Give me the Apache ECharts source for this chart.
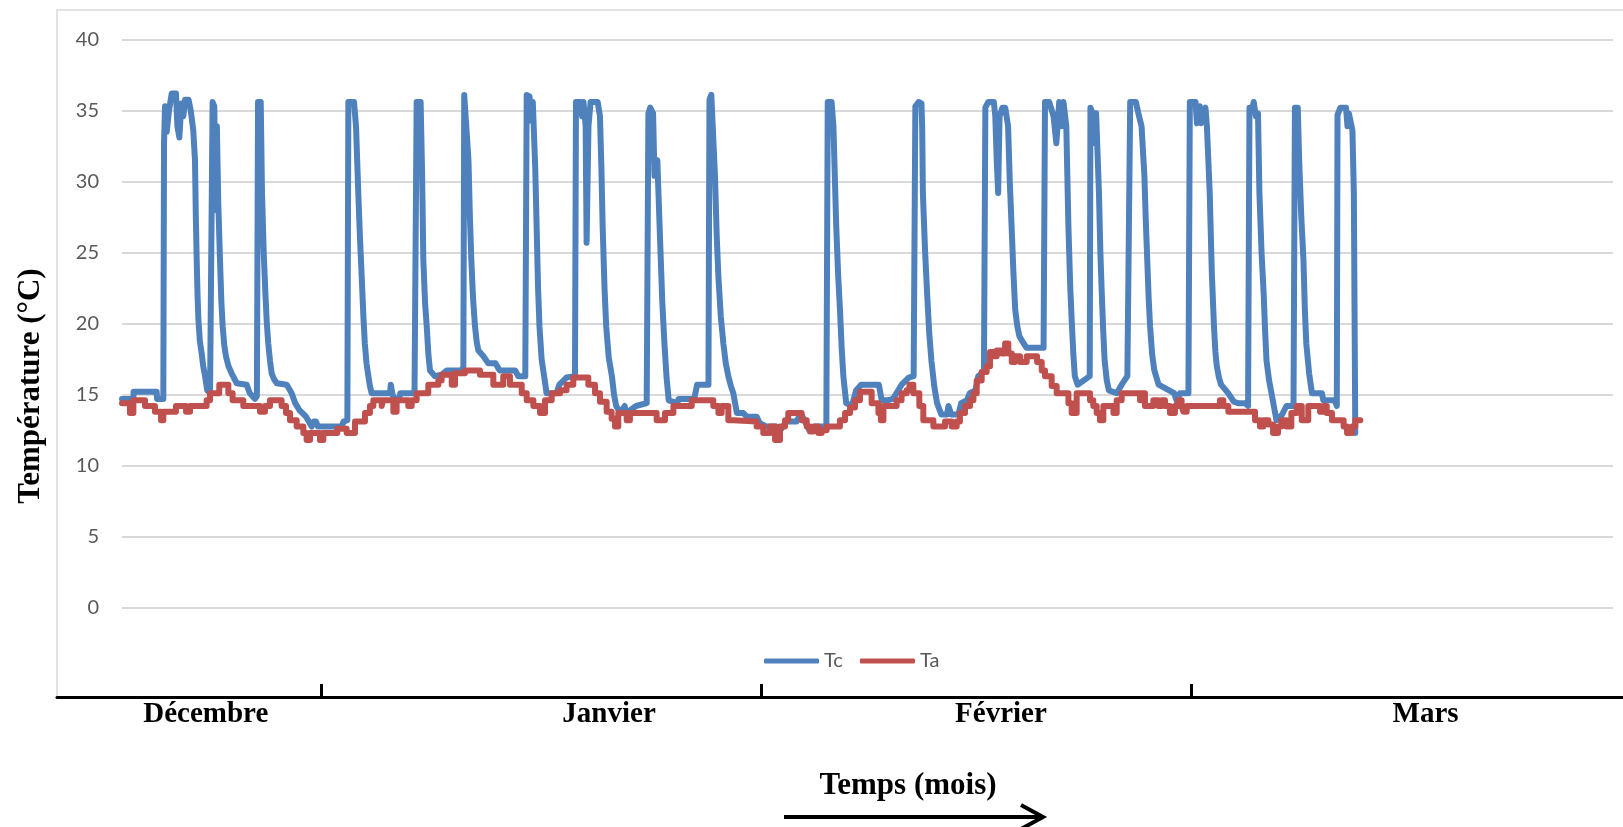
<!DOCTYPE html>
<html>
<head>
<meta charset="utf-8">
<script src="https://cdn.jsdelivr.net/npm/echarts@6/dist/echarts.min.js"></script>
<style>
  html, body { margin: 0; padding: 0; background: #ffffff; }
  #chart { width: 1623px; height: 827px; }
</style>
</head>
<body>
<div id="chart"></div>
<script>
// Time axis: days since the first reading. Temperatures in °C.

// Tc : collector temperature (sampled points, drawn as a plain line)
const tcPoints = [
  [0, 14.7], [0.8, 14.7], [0.82, 15.2], [2.44, 15.2], [2.47, 14.7], [2.91, 14.7], [2.96, 32.7], [3.03, 35.3],
  [3.15, 33.5], [3.31, 35.0], [3.5, 36.2], [3.8, 36.2], [3.9, 33.9], [4.04, 33.1], [4.18, 35.5], [4.32, 34.6],
  [4.44, 35.75], [4.69, 35.75], [4.84, 35.0], [5.02, 33.6], [5.14, 31.5], [5.2, 27.5], [5.26, 24.5], [5.32, 22.0],
  [5.38, 20.3], [5.48, 18.8], [5.61, 17.9], [5.72, 17.0], [5.85, 16.3], [6.0, 15.3], [6.2, 15.1], [6.38, 35.6],
  [6.5, 35.3], [6.6, 28.0], [6.68, 33.9], [6.78, 28.5], [6.9, 24.5], [7.0, 21.5], [7.09, 19.8], [7.2, 18.5],
  [7.32, 17.7], [7.5, 17.0], [7.72, 16.5], [8.08, 15.8], [8.78, 15.7], [9.0, 15.1], [9.37, 14.7], [9.5, 14.9],
  [9.58, 35.6], [9.77, 35.6], [9.86, 29.2], [9.98, 25.0], [10.1, 22.1], [10.2, 20.0], [10.3, 18.6], [10.42, 17.4],
  [10.54, 16.5], [10.7, 16.1], [10.9, 15.8], [11.6, 15.7], [11.95, 15.1], [12.2, 14.4], [12.5, 13.9], [12.96, 13.45],
  [13.36, 12.75], [13.5, 13.1], [13.66, 13.1], [13.8, 12.75], [15.47, 12.75], [15.6, 13.1], [15.87, 13.2], [15.94, 35.6],
  [16.34, 35.6], [16.48, 33.9], [16.64, 29.2], [16.76, 26.0], [16.88, 23.3], [17.0, 20.5], [17.1, 18.6], [17.22, 17.2],
  [17.35, 16.3], [17.46, 15.6], [17.58, 15.1], [18.87, 15.1], [18.93, 15.7], [19.05, 15.0], [19.2, 14.7], [19.5, 14.7],
  [19.6, 15.1], [20.6, 15.1], [20.65, 15.2], [20.75, 35.6], [21.03, 35.6], [21.13, 30.8], [21.22, 24.5], [21.34, 21.5],
  [21.46, 19.8], [21.58, 17.8], [21.69, 16.7], [22.04, 16.3], [22.5, 16.4], [22.86, 16.7], [23.95, 16.7], [24.04, 17.0],
  [24.1, 36.1], [24.23, 36.0], [24.4, 31.5], [24.5, 27.5], [24.6, 24.5], [24.72, 21.8], [24.86, 19.8], [24.98, 18.7],
  [25.1, 18.1], [25.45, 17.7], [25.8, 17.2], [26.3, 17.2], [26.6, 16.7], [27.7, 16.7], [27.9, 16.3], [28.4, 16.3],
  [28.5, 36.1], [28.7, 36.0], [28.8, 34.3], [28.93, 35.6], [29.0, 35.5], [29.1, 31.0], [29.2, 26.8], [29.3, 22.5],
  [29.4, 19.8], [29.55, 17.5], [29.8, 15.8], [29.9, 15.1], [30.6, 15.1], [30.8, 15.7], [31.3, 16.2], [31.9, 16.3],
  [31.97, 35.6], [32.3, 35.6], [32.4, 34.6], [32.5, 35.6], [32.65, 33.9], [32.72, 25.7], [32.85, 33.9], [33.0, 35.6],
  [33.5, 35.6], [33.66, 34.6], [33.76, 31.0], [33.85, 26.8], [33.98, 22.5], [34.1, 19.8], [34.28, 17.6], [34.5, 16.3],
  [34.65, 15.0], [34.8, 14.2], [35.1, 13.7], [35.4, 14.2], [35.5, 13.7], [36.2, 14.2], [36.95, 14.4], [37.07, 34.8],
  [37.2, 35.2], [37.4, 34.8], [37.5, 30.4], [37.7, 31.5], [37.9, 25.7], [38.05, 21.5], [38.2, 18.6], [38.35, 16.2],
  [38.5, 14.6], [39.1, 14.4], [39.2, 14.7], [40.3, 14.7], [40.5, 15.7], [41.3, 15.7], [41.37, 35.75], [41.5, 36.1],
  [41.6, 36.0], [41.76, 30.4], [41.88, 26.2], [42.0, 23.3], [42.17, 20.5], [42.35, 18.6], [42.52, 17.2], [42.7, 16.3],
  [42.88, 15.6], [43.05, 15.1], [43.3, 13.7], [43.76, 13.7], [44.0, 13.45], [44.7, 13.45], [44.9, 13.0], [45.4, 12.75],
  [46.1, 12.75], [46.3, 12.4], [46.8, 13.1], [47.5, 13.1], [47.8, 13.7], [48.1, 13.1], [48.4, 12.5], [48.8, 12.75],
  [49.4, 12.75], [49.6, 12.6], [49.7, 35.6], [49.97, 35.6], [50.1, 33.9], [50.3, 26.8], [50.43, 23.5], [50.56, 21.0],
  [50.68, 18.3], [50.8, 16.3], [51.0, 14.4], [51.4, 14.2], [51.7, 15.3], [52.05, 15.7], [53.3, 15.7], [53.5, 14.6],
  [53.9, 14.6], [54.3, 14.7], [54.9, 15.7], [55.4, 16.2], [55.75, 16.3], [55.87, 35.3], [56.1, 35.6], [56.3, 35.5],
  [56.35, 33.9], [56.4, 29.2], [56.55, 25.2], [56.7, 22.1], [56.85, 19.3], [57.0, 17.4], [57.2, 15.6], [57.4, 14.4],
  [57.7, 13.6], [58.1, 13.6], [58.2, 14.2], [58.4, 13.6], [58.9, 13.6], [59.1, 14.4], [59.5, 14.6], [59.7, 15.1],
  [60.1, 15.3], [60.3, 16.3], [60.7, 16.6], [60.8, 35.2], [61.0, 35.6], [61.4, 35.6], [61.5, 34.6], [61.6, 31.5],
  [61.7, 29.2], [61.8, 34.6], [62.0, 35.2], [62.2, 35.2], [62.4, 33.9], [62.52, 30.0], [62.65, 26.8], [62.78, 23.5],
  [62.9, 21.0], [63.05, 19.8], [63.2, 19.1], [63.5, 18.6], [63.7, 18.3], [64.9, 18.3], [65.0, 35.6], [65.3, 35.6],
  [65.6, 34.6], [65.8, 32.7], [66.0, 35.6], [66.2, 33.9], [66.3, 35.6], [66.5, 33.9], [66.65, 26.8], [66.78, 22.5],
  [66.9, 19.8], [67.0, 17.8], [67.1, 16.3], [67.3, 15.7], [68.15, 16.3], [68.2, 35.2], [68.4, 34.7], [68.5, 32.7],
  [68.6, 34.8], [68.8, 29.2], [68.9, 25.0], [69.0, 22.1], [69.1, 19.5], [69.2, 17.4], [69.35, 16.0], [69.5, 15.3],
  [70.05, 15.1], [70.4, 15.7], [70.8, 16.3], [71.0, 35.6], [71.4, 35.6], [71.6, 34.7], [71.8, 33.9], [72.0, 30.4],
  [72.1, 27.2], [72.2, 24.5], [72.3, 21.8], [72.4, 19.8], [72.55, 17.8], [72.7, 16.7], [73.0, 15.7], [74.1, 15.1],
  [74.3, 14.5], [74.5, 15.1], [75.1, 15.1], [75.2, 35.6], [75.6, 35.6], [75.7, 34.1], [75.9, 35.3], [76.0, 34.1],
  [76.3, 35.2], [76.4, 33.9], [76.5, 33.9], [76.6, 29.2], [76.75, 23.5], [76.9, 19.8], [77.0, 18.0], [77.1, 17.0],
  [77.25, 16.2], [77.4, 15.7], [77.9, 15.1], [78.3, 14.5], [78.6, 14.4], [79.1, 14.4], [79.3, 14.2], [79.4, 35.2],
  [79.6, 35.2], [79.7, 35.6], [79.85, 34.6], [80.0, 34.8], [80.1, 29.2], [80.25, 25.0], [80.4, 22.1], [80.5, 19.5],
  [80.6, 17.4], [80.78, 16.0], [80.95, 15.1], [81.3, 13.2], [81.7, 13.6], [82.0, 14.2], [82.5, 14.2], [82.6, 35.2],
  [82.8, 35.2], [82.9, 31.5], [83.05, 27.5], [83.2, 24.5], [83.3, 21.0], [83.4, 18.6], [83.6, 16.5], [83.8, 15.1],
  [84.5, 15.1], [84.6, 14.6], [85.4, 14.6], [85.55, 14.2], [85.6, 34.7], [85.8, 35.2], [86.2, 35.2], [86.3, 33.9],
  [86.4, 34.8], [86.65, 33.6], [86.75, 29.2], [86.85, 12.3]
];

// Ta : ambient temperature, each entry = [day the reading starts, value held until the next one]
const taSteps = [
  [0, 14.4], [0.56, 13.7], [0.8, 14.6], [1.62, 14.2], [2.32, 13.8], [2.75, 13.2], [2.91, 13.8], [3.8, 14.2],
  [4.51, 13.8], [4.79, 14.2], [5.96, 14.6], [6.2, 15.1], [6.85, 15.7], [7.49, 15.1], [7.79, 14.6], [8.54, 14.2],
  [9.72, 13.8], [10.07, 14.2], [10.42, 14.6], [11.24, 14.2], [11.55, 13.7], [11.83, 13.2], [12.3, 12.75], [12.77, 12.3],
  [13.0, 11.8], [13.24, 12.3], [13.94, 11.8], [14.18, 12.3], [15.16, 12.6], [15.82, 12.3], [16.41, 13.1], [17.11, 13.7],
  [17.46, 14.2], [17.7, 14.6], [18.29, 14.2], [18.4, 14.6], [19.11, 13.8], [19.34, 14.6], [20.16, 14.2], [20.4, 14.6],
  [20.75, 15.1], [21.57, 15.7], [22.28, 16.0], [22.51, 16.4], [23.22, 15.7], [23.45, 16.5], [24.15, 16.7], [25.21, 16.4],
  [26.15, 15.7], [26.85, 16.3], [27.32, 15.7], [28.15, 15.1], [28.5, 14.6], [28.97, 14.2], [29.44, 13.7], [29.79, 14.6],
  [30.26, 15.1], [30.85, 15.3], [31.31, 15.7], [31.78, 16.2], [32.84, 15.7], [33.31, 15.1], [33.66, 14.5], [34.13, 13.8],
  [34.48, 13.3], [34.72, 12.75], [34.95, 13.7], [35.54, 13.2], [35.77, 13.7], [37.65, 13.2], [38.24, 13.7], [38.83, 14.2],
  [40.12, 14.6], [41.64, 14.2], [42.0, 13.7], [42.23, 14.2], [42.7, 13.2], [43.05, 13.1], [44.69, 12.75], [45.16, 12.3],
  [45.63, 12.75], [45.99, 11.8], [46.34, 12.75], [46.69, 13.2], [46.92, 13.7], [47.86, 13.2], [48.22, 12.75], [48.45, 12.4],
  [48.69, 12.75], [49.04, 12.3], [49.27, 12.5], [49.62, 12.75], [50.56, 13.2], [50.92, 13.7], [51.27, 14.1], [51.62, 14.6],
  [51.97, 15.2], [52.79, 14.4], [53.27, 13.7], [53.44, 13.2], [53.62, 14.2], [54.55, 14.6], [54.9, 15.1], [55.26, 15.3],
  [55.45, 15.7], [55.73, 15.1], [56.15, 14.2], [56.43, 13.2], [57.14, 12.75], [57.96, 13.1], [58.43, 12.75], [58.78, 13.1],
  [59.01, 13.7], [59.37, 14.2], [59.72, 14.6], [59.96, 15.1], [60.19, 16.0], [60.54, 16.6], [60.89, 17.0], [61.13, 18.0],
  [61.36, 17.7], [61.6, 18.1], [61.95, 17.9], [62.19, 18.6], [62.42, 17.9], [62.66, 17.3], [62.89, 17.7], [63.24, 17.3],
  [63.71, 17.7], [64.44, 17.3], [64.77, 16.7], [65.0, 16.3], [65.47, 15.6], [65.82, 15.1], [66.65, 14.4], [66.88, 13.7],
  [67.23, 15.1], [68.17, 14.6], [68.4, 14.2], [68.64, 13.7], [68.87, 13.2], [69.11, 14.2], [69.82, 13.7], [70.05, 14.6],
  [70.4, 15.1], [71.69, 14.6], [71.88, 15.1], [72.04, 14.2], [72.63, 14.6], [72.98, 14.2], [73.22, 14.6], [73.45, 14.2],
  [73.8, 13.7], [74.15, 14.2], [74.39, 14.6], [74.62, 14.2], [74.74, 13.8], [74.98, 14.2], [77.32, 14.6], [77.56, 14.2],
  [77.91, 13.8], [79.79, 13.2], [80.14, 12.75], [80.38, 13.2], [80.73, 12.9], [81.06, 12.3], [81.41, 12.75], [81.64, 13.2],
  [82.0, 12.75], [82.35, 13.7], [82.72, 14.2], [83.08, 13.2], [83.54, 14.2], [84.37, 13.8], [84.61, 14.2], [84.84, 13.7],
  [85.21, 13.2], [86.03, 12.75], [86.27, 12.3], [86.62, 12.75], [86.85, 13.2], [87.21, 13.2]
];

// Month scale drawn under the plot
const monthNames = ['Décembre', 'Janvier', 'Février', 'Mars'];
const monthLabelDays = [5.9, 34.3, 61.9, 91.8];
const monthBoundaryDays = [14.0, 45.0, 75.3];

// Temperature axis
const tempMin = 0;
const tempMax = 40;
const tempStep = 5;
const dayMax = 105;

// Expand hold-until-next readings into a staircase path
function staircase(steps) {
  const out = [];
  steps.forEach(function (p, i) {
    if (i > 0) out.push([p[0], steps[i - 1][1]]);
    out.push([p[0], p[1]]);
  });
  return out;
}

const sansFont = 'Lato, "Open Sans", sans-serif';
const serifFont = '"Liberation Serif", "DejaVu Serif", serif';
const lineW = 6;

const chart = echarts.init(document.getElementById('chart'), null, { renderer: 'canvas' });

chart.setOption({
  backgroundColor: '#ffffff',
  animation: false,
  grid: [
    { left: 122, right: 10, top: 39.5, bottom: 219.3 },
    { left: 57, right: 0, top: 600, bottom: 130 }
  ],
  xAxis: [
    {
      type: 'value', gridIndex: 0, min: 0, max: dayMax, show: false
    },
    {
      type: 'value', gridIndex: 1,
      min: (57 - 122) / 14.2, max: (1623 - 122) / 14.2,
      axisLine: { show: true, onZero: false, lineStyle: { color: '#000', width: 3 } },
      axisTick: {
        show: true, inside: true, length: 13,
        customValues: monthBoundaryDays,
        lineStyle: { color: '#000', width: 3 }
      },
      axisLabel: {
        show: true, margin: 3,
        customValues: monthLabelDays,
        formatter: function (val) {
          let best = 0;
          monthLabelDays.forEach(function (d, i) {
            if (Math.abs(d - val) < Math.abs(monthLabelDays[best] - val)) best = i;
          });
          return monthNames[best];
        },
        color: '#000', fontFamily: serifFont, fontWeight: 'bold', fontSize: 29
      },
      splitLine: { show: false }
    }
  ],
  yAxis: [
    {
      type: 'value', gridIndex: 0, min: tempMin, max: tempMax, interval: tempStep,
      axisLine: { show: false }, axisTick: { show: false },
      axisLabel: { color: '#595959', fontFamily: sansFont, fontSize: 20, margin: 23 },
      splitLine: { show: true, lineStyle: { color: '#d9d9d9', width: 2 } }
    },
    { type: 'value', gridIndex: 1, show: false }
  ],
  legend: {
    left: 764, top: 651, orient: 'horizontal',
    icon: 'roundRect',
    itemWidth: 55, itemHeight: 5, itemGap: 17, padding: 0,
    textStyle: { color: '#595959', fontFamily: sansFont, fontSize: 20 },
    data: ['Tc', 'Ta']
  },
  series: [
    {
      name: 'Tc', type: 'line', xAxisIndex: 0, yAxisIndex: 0,
      data: tcPoints, symbol: 'none', smooth: false,
      lineStyle: { color: '#4F81BD', width: lineW, cap: 'round', join: 'round' },
      itemStyle: { color: '#4F81BD' }
    },
    {
      name: 'Ta', type: 'line', xAxisIndex: 0, yAxisIndex: 0,
      data: staircase(taSteps), symbol: 'none', smooth: false,
      lineStyle: { color: '#C0504D', width: lineW, cap: 'round', join: 'round' },
      itemStyle: { color: '#C0504D' }
    }
  ],
  graphic: [
    {
      type: 'rect', z: -1, silent: true,
      shape: { x: 57, y: 10, width: 1600, height: 687 },
      style: { fill: 'none', stroke: '#d9d9d9', lineWidth: 1.5 }
    },
    {
      type: 'text', x: 31, y: 386, rotation: Math.PI / 2, silent: true,
      style: {
        text: 'Température (°C)', fill: '#000',
        font: 'bold 31px ' + serifFont,
        align: 'center', verticalAlign: 'middle',
        textAlign: 'center', textVerticalAlign: 'middle'
      }
    },
    {
      type: 'text', x: 908, y: 786, silent: true,
      style: {
        text: 'Temps (mois)', fill: '#000',
        font: 'bold 31px ' + serifFont,
        align: 'center', verticalAlign: 'middle',
        textAlign: 'center', textVerticalAlign: 'middle'
      }
    },
    {
      type: 'line', silent: true,
      shape: { x1: 784, y1: 817, x2: 1040, y2: 817 },
      style: { stroke: '#000', lineWidth: 4 }
    },
    {
      type: 'polyline', silent: true,
      shape: { points: [[1021, 805], [1043, 817], [1021, 829]] },
      style: { stroke: '#000', lineWidth: 4, fill: 'none' }
    }
  ]
});
</script>
</body>
</html>
